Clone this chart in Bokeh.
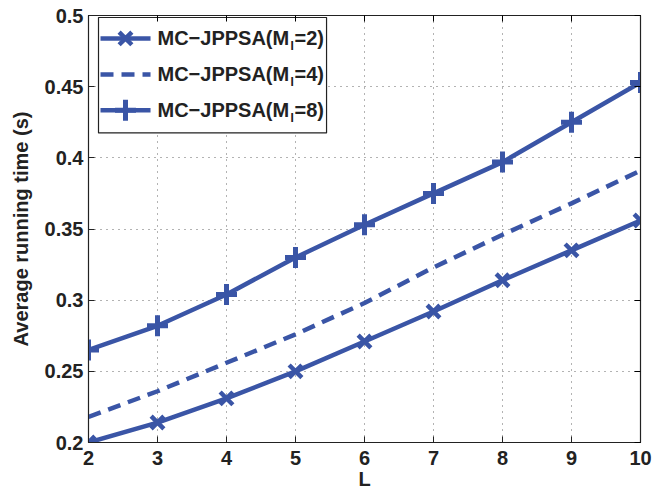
from bokeh.plotting import figure
from bokeh.models import Range1d, FixedTicker, LinearAxis, CustomJSTickFormatter
from bokeh.core.properties import value
from bokeh.embed import file_html
from bokeh.resources import INLINE

# ---- data ----
L = [2, 3, 4, 5, 6, 7, 8, 9, 10]
time_m2 = [0.200, 0.214, 0.231, 0.250, 0.271, 0.292, 0.314, 0.335, 0.356]
time_m4 = [0.218, 0.236, 0.256, 0.276, 0.298, 0.323, 0.346, 0.368, 0.391]
time_m8 = [0.265, 0.282, 0.304, 0.330, 0.353, 0.375, 0.397, 0.425, 0.453]
x_ticks = [2, 3, 4, 5, 6, 7, 8, 9, 10]
y_ticks = [0.2, 0.25, 0.3, 0.35, 0.4, 0.45, 0.5]
y_tick_labels = ["0.2", "0.25", "0.3", "0.35", "0.4", "0.45", "0.5"]
legend_prefix = "MC−JPPSA(M"
legend_sub = "I"
legend_suffix = ["=2)", "=4)", "=8)"]
x_label = "L"
y_label = "Average running time (s)"

COLOR = "#3A55A6"
FONT = "Liberation Sans"
FS = "20px"

p = figure(width=664, height=492, x_range=Range1d(2, 10), y_range=Range1d(0.2, 0.5),
           output_backend="svg", toolbar_location=None,
           min_border_left=88, min_border_right=24, min_border_top=15, min_border_bottom=49)
p.background_fill_color = "white"
p.border_fill_color = "white"
p.outline_line_color = "#222222"
p.outline_line_width = 1.2

for ax in (p.xaxis, p.yaxis):
    ax.major_label_text_font = FONT
    ax.major_label_text_font_style = "bold"
    ax.major_label_text_font_size = FS
    ax.major_label_text_color = "#222222"
    ax.axis_label_text_font = FONT
    ax.axis_label_text_font_style = "bold"
    ax.axis_label_text_font_size = FS
    ax.axis_label_text_color = "#222222"
    ax.major_tick_in = 6
    ax.major_tick_out = 0
    ax.minor_tick_line_color = None
    ax.axis_line_color = "#222222"
    ax.major_tick_line_color = "#222222"

p.xaxis.ticker = FixedTicker(ticks=x_ticks)
p.yaxis.ticker = FixedTicker(ticks=y_ticks)
p.yaxis.major_label_overrides = {v: s for v, s in zip(y_ticks, y_tick_labels)}
p.xaxis.axis_label = x_label
p.yaxis.axis_label = y_label
p.xaxis.major_label_standoff = 8
p.xaxis.axis_label_standoff = 0
p.yaxis.major_label_standoff = 5
p.yaxis.axis_label_standoff = 10

empty = CustomJSTickFormatter(code="return ''")
right = LinearAxis(ticker=FixedTicker(ticks=y_ticks), formatter=empty, major_tick_in=6,
                   major_tick_out=0, minor_tick_line_color=None, axis_line_color="#222222",
                   major_label_standoff=0)
top = LinearAxis(ticker=FixedTicker(ticks=x_ticks), formatter=empty, major_tick_in=6,
                 major_tick_out=0, minor_tick_line_color=None, axis_line_color="#222222",
                 major_label_standoff=0)
p.add_layout(right, "right")
p.add_layout(top, "above")

p.grid.grid_line_color = "#666666"
p.grid.grid_line_dash = "1 5"
p.grid.grid_line_width = 1

# series
p.line(L, time_m2, line_width=4.5, color=COLOR)
p.scatter(L, time_m2, marker="x", size=18, line_width=4.5, color=COLOR)
p.line(L, time_m4, line_width=4.5, color=COLOR, line_dash="13 8")
p.line(L, time_m8, line_width=4.5, color=COLOR)
p.scatter(L, time_m8, marker="cross", size=21, line_width=5, color=COLOR)

# custom legend (box, samples, texts)
p.quad(left=[2.145], right=[5.45], top=[0.4986], bottom=[0.4175],
       fill_color="white", line_color="#222222", line_width=1.2)
rows = [0.4839, 0.4586, 0.4334]
sx = [2.174, 2.899]
p.line(sx, [rows[0]] * 2, line_width=4.5, color=COLOR)
p.scatter([2.536], [rows[0]], marker="x", size=18, line_width=4.5, color=COLOR)
p.line(sx, [rows[1]] * 2, line_width=4.5, color=COLOR, line_dash="13 8")
p.line(sx, [rows[2]] * 2, line_width=4.5, color=COLOR)
p.scatter([2.536], [rows[2]], marker="cross", size=21, line_width=5, color=COLOR)

tx = 3.0
p.text(x=[tx] * 3, y=rows, text=[legend_prefix] * 3, text_font=value(FONT),
       text_font_style="bold", text_font_size=FS, text_baseline="middle",
       text_color="#222222")
p.text(x=[tx] * 3, y=rows, text=[legend_sub] * 3, text_font=value(FONT),
       text_font_style="bold", text_font_size="12px", text_baseline="middle",
       text_color="#222222", x_offset=133, y_offset=8)
p.text(x=[tx] * 3, y=rows, text=legend_suffix, text_font=value(FONT),
       text_font_style="bold", text_font_size=FS, text_baseline="middle",
       text_color="#222222", x_offset=137)

open("out.html", "w").write(file_html(p, INLINE))
